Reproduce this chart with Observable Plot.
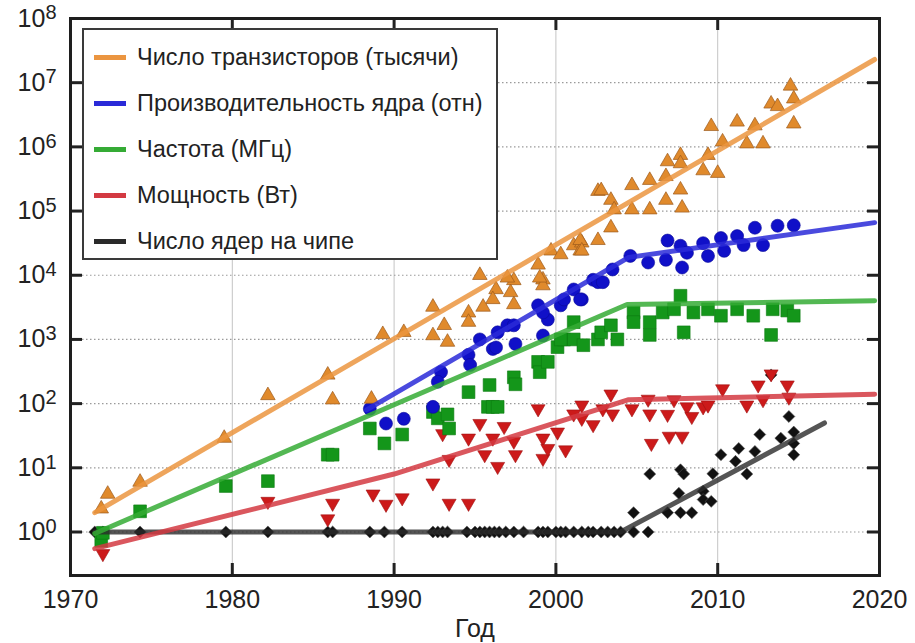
<!DOCTYPE html>
<html>
<head>
<meta charset="utf-8">
<script src="https://cdn.jsdelivr.net/npm/d3@7"></script>
<script src="https://cdn.jsdelivr.net/npm/@observablehq/plot@0.6"></script>
<style>
  html, body { margin: 0; padding: 0; background: #fff; }
  #wrap { position: relative; width: 915px; height: 643px; font-family: "Liberation Sans", Arial, sans-serif; }
  #legend { position: absolute; left: 82px; top: 28px; width: 412px; height: 224px; border: 2px solid #3a3a3a; background: #fff; box-sizing: content-box; padding-top: 4px; }
  .row { height: 46px; display: flex; align-items: center; font-size: 23.5px; color: #222; }
  .sw { width: 32px; height: 5px; margin-left: 10px; margin-right: 11px; }
</style>
</head>
<body>
<div id="wrap"><div id="chart"></div><div id="legend"></div></div>
<script>
// ---- categories / legend ----
const seriesNames = ["Число транзисторов (тысячи)", "Производительность ядра (отн)", "Частота (МГц)", "Мощность (Вт)", "Число ядер на чипе"];
const seriesColors = ["#eb9540", "#2a2ad8", "#35ab35", "#d33a42", "#2a2a2a"];
const yearTicks = [1970, 1980, 1990, 2000, 2010, 2020];
const decadeTicks = [1, 10, 100, 1e3, 1e4, 1e5, 1e6, 1e7, 1e8];

// ---- scatter data ----
const transistorYears = [1971.9, 1972.3, 1974.3, 1979.5, 1982.2, 1985.9, 1986.2, 1988.6, 1989.3, 1990.6, 1992.4, 1992.4, 1993.3, 1993.1, 1994.6, 1994.6, 1995.3, 1996.3, 1996.1, 1995.5, 1997.4, 1997.4, 1997.2, 1997.0, 1999.2, 1999.2, 1998.9, 1999.0, 1999.7, 2000.3, 2001.1, 2001.6, 2001.5, 2001.5, 2002.6, 2003.4, 2001.6, 2002.6, 2002.8, 2003.4, 2003.6, 2004.7, 2004.7, 2005.8, 2005.8, 2006.9, 2006.8, 2006.8, 2007.7, 2007.7, 2007.7, 2007.8, 2009.1, 2009.4, 2010.0, 2009.6, 2010.3, 2011.2, 2011.8, 2012.3, 2012.8, 2013.3, 2013.7, 2014.5, 2014.7, 2014.7];
const transistorValues = [2.3, 3.9, 6, 29, 134, 280, 115, 118, 1200, 1290, 3200, 1150, 910, 1660, 2600, 1860, 10000, 6000, 4200, 3200, 8300, 3500, 5400, 9100, 8500, 6900, 14500, 9100, 24000, 21000, 29000, 32000, 24000, 35000, 35000, 55000, 24000, 204000, 209000, 148000, 105000, 251000, 105000, 302000, 105000, 590000, 347000, 148000, 740000, 550000, 214000, 112000, 427000, 740000, 389000, 2090000, 1200000, 2450000, 1120000, 2140000, 1120000, 4680000, 4270000, 8900000, 5620000, 2290000];

const perfYears = [1988.5, 1989.5, 1990.6, 1992.4, 1992.9, 1992.7, 1994.6, 1994.7, 1995.3, 1996.1, 1996.4, 1997.0, 1997.5, 1997.4, 1998.9, 1999.2, 1999.5, 2000.3, 2001.1, 2001.6, 2002.3, 2002.6, 1999.2, 2000.5, 2001.5, 2002.9, 2003.5, 2004.6, 2005.7, 2006.8, 2006.9, 2007.7, 2007.8, 2008.1, 2009.1, 2009.4, 2010.2, 2010.4, 2011.2, 2011.6, 2012.3, 2012.8, 2013.7, 2014.7, 1996.3];
const perfValues = [83, 49, 58, 89, 310, 219, 575, 400, 1000, 710, 1290, 1660, 850, 1660, 3400, 1150, 2040, 3400, 6000, 4200, 8500, 7800, 2630, 4200, 4200, 7800, 12300, 20000, 15800, 17400, 34700, 28800, 13200, 22400, 31600, 20000, 38000, 24000, 40700, 29500, 55000, 29500, 59000, 60000, 750];

const freqYears = [1971.9, 1972.0, 1974.3, 1979.6, 1982.2, 1985.9, 1986.2, 1988.5, 1989.4, 1990.5, 1992.4, 1992.7, 1993.3, 1993.4, 1994.6, 1995.8, 1996.1, 1996.4, 1995.9, 1997.4, 1997.5, 1998.9, 1999.0, 2000.1, 2000.5, 2001.1, 2002.6, 1999.5, 2000.3, 2001.1, 2001.7, 2002.8, 2003.4, 2003.8, 2004.8, 2004.8, 2005.8, 2005.8, 2006.6, 2007.3, 2007.7, 2007.9, 2008.5, 2009.4, 2010.2, 2011.2, 2012.2, 2013.3, 2013.4, 2014.3, 2014.7];
const freqValues = [0.73, 0.97, 2.1, 5.2, 6.2, 16, 16, 41, 24, 33, 74, 59, 68, 41, 151, 89, 89, 89, 195, 257, 200, 447, 309, 759, 1000, 1000, 1000, 447, 1000, 1860, 813, 1290, 1660, 1000, 2630, 1860, 1175, 1860, 2630, 2950, 4790, 1290, 2630, 2950, 2340, 2950, 2340, 1175, 2950, 2820, 2340];

const powerYears = [1972.0, 1982.2, 1985.9, 1986.2, 1988.7, 1989.5, 1990.5, 1992.4, 1993.0, 1993.4, 1993.4, 1994.6, 1994.6, 1995.3, 1995.6, 1996.1, 1996.4, 1996.8, 1997.4, 1997.5, 1998.9, 1999.2, 1999.2, 1999.5, 2000.1, 2000.6, 2001.1, 2001.6, 2001.6, 2002.3, 2002.9, 2003.4, 2003.5, 2004.7, 2005.7, 2005.8, 2005.9, 2006.9, 2007.0, 2007.3, 2007.8, 2008.1, 2008.4, 2009.1, 2009.4, 2010.3, 2011.8, 2012.5, 2012.8, 2013.3, 2014.3, 2014.4];
const powerValues = [0.46, 3, 1.6, 2.8, 3.9, 2.7, 3.4, 5.8, 34, 13.5, 2.8, 2.8, 29, 49, 16, 29, 10.5, 44, 26, 16, 83, 29, 14, 20, 36, 19, 69, 95, 59, 47, 83, 141, 69, 83, 117, 69, 24, 68, 31, 115, 31, 89, 63, 89, 95, 170, 95, 195, 115, 290, 195, 126];

const coreYears = [1971.5, 1972.0, 1974.3, 1979.6, 1982.2, 1985.9, 1986.2, 1988.5, 1989.4, 1990.5, 1992.4, 1992.7, 1993.0, 1993.3, 1994.5, 1995.0, 1995.3, 1995.6, 1995.9, 1996.2, 1996.5, 1996.9, 1997.4, 1998.0, 1998.9, 1999.2, 1999.5, 2000.0, 2000.3, 2000.6, 2001.1, 2001.6, 2002.0, 2002.3, 2002.8, 2003.2, 2003.6, 2004.0, 2004.8, 2005.7, 2004.8, 2005.8, 2006.9, 2007.6, 2007.7, 2007.9, 2007.7, 2008.4, 2009.1, 2009.1, 2009.6, 2009.7, 2010.2, 2011.1, 2011.3, 2011.8, 2012.6, 2012.3, 2013.3, 2013.9, 2014.4, 2014.7, 2014.7, 2014.7];
const coreValues = [1, 1, 1, 1, 1, 1, 1, 1, 1, 1, 1, 1, 1, 1, 1, 1, 1, 1, 1, 1, 1, 1, 1, 1, 1, 1, 1, 1, 1, 1, 1, 1, 1, 1, 1, 1, 1, 1, 1, 1, 2, 8, 2, 4, 9.3, 8, 2, 2, 4.3, 3.2, 3, 8.1, 16, 12.6, 20, 8, 33, 18, 280, 29, 63, 36, 24, 16];

// ---- trend lines (vertices) ----
const transistorTrendYears = [1971.5, 2019.7];
const transistorTrendValues = [2.0, 2.3e7];
const perfTrendYears = [1988.3, 2004.5, 2019.7];
const perfTrendValues = [80, 1.9e4, 6.6e4];
const freqTrendYears = [1971.5, 2004.4, 2019.7];
const freqTrendValues = [0.95, 3500, 4000];
const powerTrendYears = [1971.5, 1990, 2004.5, 2019.7];
const powerTrendValues = [0.55, 8, 115, 140];
const coreTrendYears = [1971.5, 2004.0, 2016.6];
const coreTrendValues = [1, 1, 50];

const pts = (xs, ys) => xs.map((x, i) => ({x, y: ys[i]}));

const chart = Plot.plot({
  width: 915,
  height: 643,
  marginLeft: 70,
  marginRight: 36,
  marginTop: 18,
  marginBottom: 68,
  style: {fontFamily: '"Liberation Sans", Arial, sans-serif', fontSize: "25px", color: "#222", background: "#fff"},
  x: {domain: [1970, 2020]},
  y: {type: "log", domain: [0.21, 1e8]},
  marks: [
    Plot.gridX(yearTicks.slice(1, -1), {stroke: "#c4c4c4", strokeOpacity: 1, strokeWidth: 1}),
    Plot.gridY(decadeTicks.slice(0, -1), {stroke: "#9a9a9a", strokeOpacity: 1, strokeWidth: 1.2, strokeDasharray: "1.5,2.5"}),
    Plot.axisX(yearTicks, {tickSize: 0, tickPadding: 15, tickFormat: d => String(d), fontSize: 25, label: "Год", labelAnchor: "center", labelArrow: "none", labelOffset: 61}),
    Plot.axisY(decadeTicks, {tickSize: 0, tickPadding: 14, tickFormat: d => String(Math.round(Math.log10(d))), fontSize: 25, label: null}),
    Plot.tickY(decadeTicks, {y: d => d, insetRight: 797, stroke: "#222", strokeWidth: 3}),
    Plot.tickY(decadeTicks, {y: d => d, insetLeft: 797, stroke: "#222", strokeWidth: 3}),
    Plot.tickX(yearTicks, {x: d => d, insetTop: 545, stroke: "#222", strokeWidth: 3}),
    Plot.tickX(yearTicks, {x: d => d, insetBottom: 545, stroke: "#222", strokeWidth: 3}),

    Plot.dot(pts(coreYears, coreValues), {x: "x", y: "y", symbol: "diamond2", r: 5.4, fill: "#111", stroke: "#555", strokeWidth: 0.6}),
    Plot.dot(pts(powerYears, powerValues), {x: "x", y: "y", symbol: "triangle", rotate: 180, r: 5.2, fill: "#cc1a1a", stroke: "#a01010", strokeWidth: 0.6}),
    Plot.dot(pts(freqYears, freqValues), {x: "x", y: "y", symbol: "square", r: 7.2, fill: "#14961a", stroke: "#0c7a10", strokeWidth: 0.6}),
    Plot.dot(pts(perfYears, perfValues), {x: "x", y: "y", symbol: "circle", r: 6.5, fill: "#1010c8", stroke: "#0a0a99", strokeWidth: 0.6}),
    Plot.dot(pts(transistorYears, transistorValues), {x: "x", y: "y", symbol: "triangle", r: 5.4, fill: "#e08a2c", stroke: "#9c5a1c", strokeWidth: 0.7}),

    Plot.line(pts(coreTrendYears, coreTrendValues), {x: "x", y: "y", stroke: seriesColors[4], strokeWidth: 5, strokeOpacity: 0.8}),
    Plot.line(pts(powerTrendYears, powerTrendValues), {x: "x", y: "y", stroke: seriesColors[3], strokeWidth: 5, strokeOpacity: 0.85}),
    Plot.line(pts(freqTrendYears, freqTrendValues), {x: "x", y: "y", stroke: seriesColors[2], strokeWidth: 5, strokeOpacity: 0.85}),
    Plot.line(pts(perfTrendYears, perfTrendValues), {x: "x", y: "y", stroke: seriesColors[1], strokeWidth: 5, strokeOpacity: 0.85}),
    Plot.line(pts(transistorTrendYears, transistorTrendValues), {x: "x", y: "y", stroke: seriesColors[0], strokeWidth: 5, strokeOpacity: 0.85}),

    Plot.frame({stroke: "#1e1e1e", strokeWidth: 3})
  ]
});

// superscript exponents on the y tick labels
chart.querySelectorAll('g[aria-label="y-axis tick label"] text').forEach(t => {
  const e = t.textContent;
  t.textContent = "10";
  const ts = document.createElementNS("http://www.w3.org/2000/svg", "tspan");
  ts.setAttribute("dy", "-0.36em");
  ts.setAttribute("font-size", "0.8em");
  ts.textContent = e;
  t.appendChild(ts);
});

document.getElementById("chart").appendChild(chart);

const legend = document.getElementById("legend");
seriesNames.forEach((name, i) => {
  const row = document.createElement("div");
  row.className = "row";
  const sw = document.createElement("span");
  sw.className = "sw";
  sw.style.background = seriesColors[i];
  const lab = document.createElement("span");
  lab.textContent = name;
  row.appendChild(sw);
  row.appendChild(lab);
  legend.appendChild(row);
});
</script>
</body>
</html>
